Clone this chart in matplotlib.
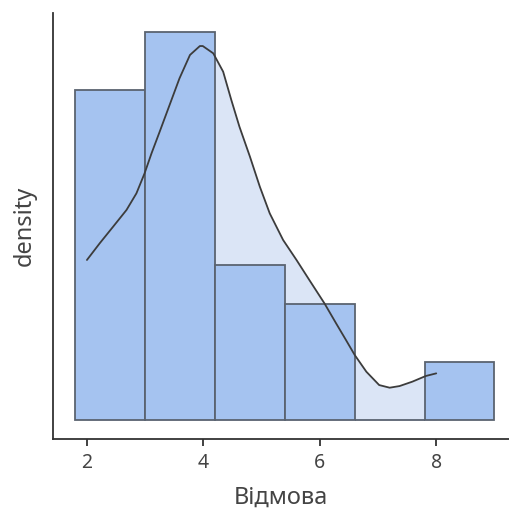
import numpy as np
import matplotlib.pyplot as plt

plt.rcParams['font.family'] = ['Noto Sans', 'DejaVu Sans']

# histogram bins and counts
bin_edges = [1.8, 3.0, 4.2, 5.4, 6.6, 7.8, 9.0]
counts = [17, 20, 8, 6, 0, 3]

# density curve
kde_x = [2.0, 2.22, 2.45, 2.68, 2.85, 2.99, 3.11, 3.25, 3.42, 3.59, 3.77,
         3.94, 3.99, 4.17, 4.34, 4.48, 4.62, 4.8, 4.97, 5.14, 5.37, 5.6,
         5.82, 6.08, 6.28, 6.45, 6.6, 6.8, 7.02, 7.2, 7.37, 7.59, 7.82, 8.0]
kde_y = [0.1273, 0.1406, 0.1538, 0.1671, 0.1803, 0.1962, 0.2122, 0.2294,
         0.2506, 0.2718, 0.2904, 0.2975, 0.2975, 0.2917, 0.2771, 0.2546,
         0.2333, 0.2095, 0.1856, 0.1644, 0.1432, 0.1273, 0.1114, 0.0928,
         0.0769, 0.0636, 0.0517, 0.0384, 0.0278, 0.0257, 0.0270, 0.0305,
         0.0350, 0.0371]

edges = np.array(bin_edges)
widths = np.diff(edges)
density = np.array(counts) / (sum(counts) * widths)

fig = plt.figure(figsize=(5.09, 5.17), dpi=100)
ax = fig.add_axes([0.1041, 0.1509, 0.8959, 0.8240])

ax.fill_between(kde_x, 0, kde_y, color='#dbe5f6', linewidth=0, zorder=1)
ax.bar(edges[:-1], density, width=widths, align='edge', color='#a5c3f0',
       edgecolor='#5a6370', linewidth=1.3, zorder=2)
ax.plot(kde_x, kde_y, color='#3c3c3c', linewidth=1.3, zorder=3,
        solid_joinstyle='round', solid_capstyle='round')

ax.set_xlim(1.417, 9.25)
ax.set_ylim(-0.0151, 0.3238)
ax.set_xticks([2, 4, 6, 8])
ax.set_yticks([])

for side in ['top', 'right']:
    ax.spines[side].set_visible(False)
for side in ['left', 'bottom']:
    ax.spines[side].set_color('#333333')
    ax.spines[side].set_linewidth(1.3)

ax.tick_params(axis='x', direction='out', length=5, width=1.3,
               color='#333333', labelsize=14, labelcolor='#444444', pad=5)
ax.set_xlabel('Відмова', fontsize=17, color='#444444', labelpad=9)
ax.set_ylabel('density', fontsize=17, color='#444444', labelpad=12)

fig.savefig('out.png', dpi=100)
